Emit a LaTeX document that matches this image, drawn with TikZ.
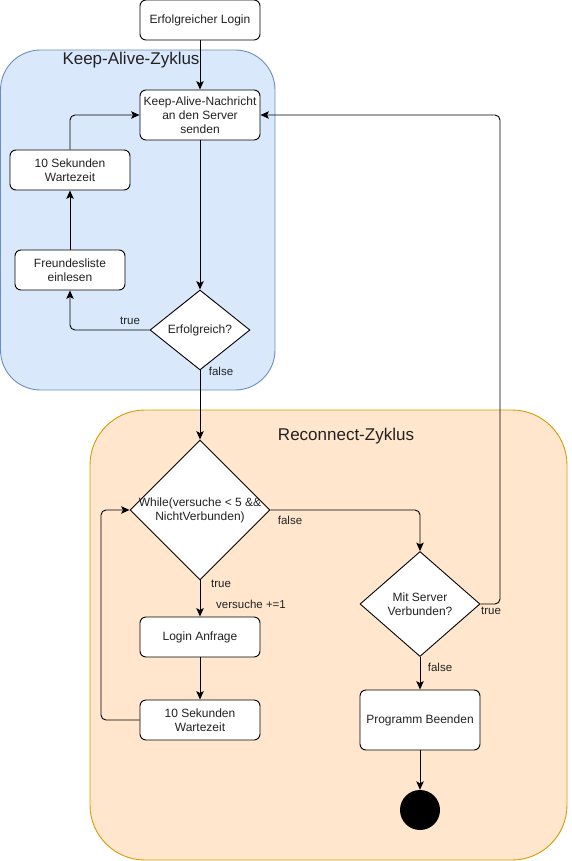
\documentclass[tikz,border=0pt]{standalone}
\usepackage{fontspec}
\setmainfont{Liberation Sans}
\usetikzlibrary{shapes.geometric,arrows.meta}
\definecolor{kaFill}{HTML}{DAE8FC}
\definecolor{kaLine}{HTML}{6C8EBF}
\definecolor{rcFill}{HTML}{FFE6CC}
\definecolor{rcLine}{HTML}{D79B00}
\definecolor{txt}{HTML}{222222}
\begin{document}
\begin{tikzpicture}[x=1pt,y=-1pt,
  every node/.style={text=txt},
  box/.style={draw=black, fill=white, rounded corners=6pt, line width=0.9pt, inner sep=0pt,
    align=center, font=\fontsize{12}{14}\selectfont},
  dia/.style={draw=black, fill=white, diamond, line width=0.9pt, inner sep=0pt},
  dtext/.style={align=center, font=\fontsize{12}{14}\selectfont, inner sep=0pt},
  lbl/.style={font=\fontsize{11.5}{13}\selectfont, inner sep=0pt},
  title/.style={font=\fontsize{17}{19}\selectfont, inner sep=0pt, text=txt},
  conn/.style={draw=black, line width=0.9pt, rounded corners=5pt, -{Stealth[length=8.5pt,width=7.5pt,inset=2pt]}}
]
\useasboundingbox (0,0) rectangle (571,861);
% containers
\draw[fill=kaFill, draw=kaLine, line width=0.9pt, rounded corners=40pt] (0.5,50) rectangle (275,390);
\node[title] (kat) at (131,60) {Keep-Alive-Zyklus};
\draw[fill=rcFill, draw=rcLine, line width=0.9pt, rounded corners=55pt] (90,410) rectangle (567,860);
\node[title] (rct) at (346,436) {Reconnect-Zyklus};

% nodes
\node[box, minimum width=120, minimum height=40] (login) at (200,20) {Erfolgreicher Login};
\node[box, minimum width=120, minimum height=50] (ka) at (200,115) {Keep-Alive-Nachricht\\an den Server\\senden};
\node[box, minimum width=120, minimum height=40] (wait1) at (70,170) {10 Sekunden\\Wartezeit};
\node[box, minimum width=110, minimum height=40] (fl) at (70,270) {Freundesliste\\einlesen};
\node[dia, minimum width=100, minimum height=80] (erf) at (200,330) {};
\node[dtext] (erft) at (200,330) {Erfolgreich?};

\node[dia, minimum width=140, minimum height=140] (wh) at (200,510) {};
\node[dtext] (wht) at (200,510) {While(versuche < 5 \&\&\\NichtVerbunden)};
\node[box, minimum width=120, minimum height=40] (la) at (200,637) {Login Anfrage};
\node[box, minimum width=120, minimum height=40] (wait2) at (200,720) {10 Sekunden\\Wartezeit};

\node[dia, minimum width=120, minimum height=105] (ms) at (420,604) {};
\node[dtext] (mst) at (420,604) {Mit Server\\Verbunden?};
\node[box, minimum width=120, minimum height=60] (pb) at (420,720) {Programm Beenden};
\node[circle, fill=black, minimum size=40, inner sep=0pt] (end) at (420,810) {};

% connectors
\draw[conn] (login.south) -- (ka.north);
\draw[conn] (ka.south) -- (erf.north);
\draw[conn] (erf.west) -| (fl.south);
\draw[conn] (fl.north) -- (wait1.south);
\draw[conn] (wait1.north) |- (ka.west);
\draw[conn] (erf.south) -- (wh.north);
\draw[conn] (wh.east) -| (ms.north);
\draw[conn] (wh.south) -- (la.north);
\draw[conn] (la.south) -- (wait2.north);
\draw[conn] (wait2.west) -- (101,720) |- (wh.west);
\draw[conn] (ms.east) -- (500,604) |- (ka.east);
\draw[conn] (ms.south) -- (pb.north);
\draw[conn] (pb.south) -- (end.north);

% labels
\node[lbl] (l1) at (130,321) {true};
\node[lbl] (l2) at (221,371) {false};
\node[lbl] (l3) at (290,520) {false};
\node[lbl] (l4) at (221,584) {true};
\node[lbl] (l5) at (251,604) {versuche +=1};
\node[lbl] (l6) at (491,611) {true};
\node[lbl] (l7) at (440,667) {false};
\end{tikzpicture}
\end{document}
